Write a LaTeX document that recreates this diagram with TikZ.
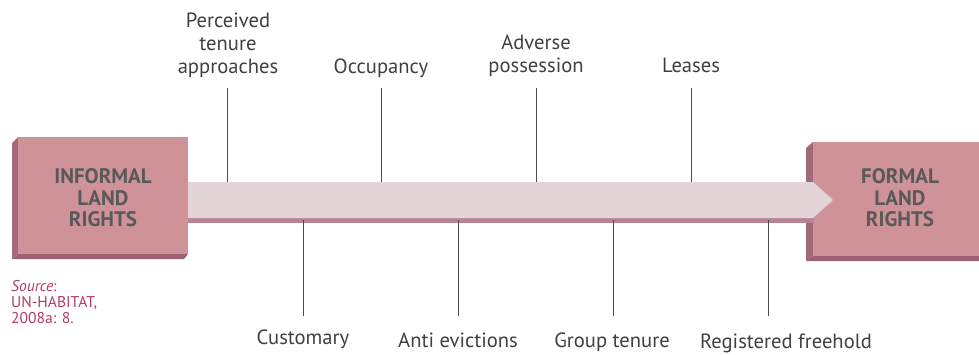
\documentclass[tikz,border=0pt]{standalone}
\usepackage{fontspec}
\setmainfont{PT Sans}
\begin{document}
\begin{tikzpicture}[x=1pt,y=-1pt,
  lbl/.style={text=black!75, font=\fontsize{20.6}{23}\selectfont, align=center, inner sep=0pt},
  boxtxt/.style={text=black!65, font=\fontsize{21}{21.5}\selectfont\bfseries, align=center, inner sep=0pt},
  tick/.style={draw=black!70, line width=0.9pt},
  src/.style={text=srcpink, font=\fontsize{15.6}{16.2}\selectfont, align=left, inner sep=0pt, anchor=north west}]
\definecolor{boxface}{HTML}{CF9299}
\definecolor{boxside}{HTML}{A06A7B}
\definecolor{boxbot}{HTML}{9A6272}
\definecolor{arrlight}{HTML}{E3D4D8}
\definecolor{arrdark}{HTML}{B98592}
\definecolor{srcpink}{HTML}{B23A62}
\useasboundingbox (0,0) rectangle (979,354);

% right box
\fill[boxside] (806,148) -- (813,142) -- (813,256) -- (806,261) -- cycle;
\fill[boxbot] (806,261) -- (813,256) -- (979,256) -- (979,261) -- cycle;
\fill[boxface] (813,142) rectangle (979,256);

% arrow
\fill[arrdark] (185,216) rectangle (814,223);
\fill[arrlight] (185,182) -- (813,182) -- (833,200) -- (813,218) -- (185,218) -- cycle;

% left box
\fill[boxside] (12,143) -- (18,137) -- (18,254) -- (12,259) -- cycle;
\fill[boxbot] (12,259) -- (18,254) -- (188,254) -- (184,259) -- cycle;
\fill[boxface] (18,137) rectangle (188,254);

\node[boxtxt] (inf) at (103,198) {INFORMAL\\LAND\\RIGHTS};
\node[boxtxt] (for) at (900,198) {FORMAL\\LAND\\RIGHTS};

% top labels
\node[lbl, anchor=south] (l1) at (228,78) {Perceived\\tenure\\approaches};
\node[lbl, anchor=south] (l2) at (381,78) {Occupancy};
\node[lbl, anchor=south] (l3) at (536,77) {Adverse\\possession};
\node[lbl, anchor=base] (l4) at (691,72) {Leases};
% bottom labels
\node[lbl, anchor=base] (b1) at (303,344) {Customary};
\node[lbl, anchor=base] (b2) at (458,347) {Anti evictions};
\node[lbl, anchor=base] (b3) at (612,347) {Group tenure};
\node[lbl, anchor=base] (b4) at (786,348) {Registered freehold};

% ticks
\foreach \i/\x in {1/227,2/381,3/536,4/691}{
  \coordinate (tt\i) at (\x,88);
  \coordinate (ta\i) at (\x,182);
  \draw[tick] (tt\i) -- (ta\i);
}
\foreach \i/\x in {1/303,2/458,3/613,4/768}{
  \coordinate (bb\i) at (\x,316);
  \coordinate (ba\i) at (\x,220);
  \draw[tick] (ba\i) -- (bb\i);
}

\node[src] (source) at (11,280) {\textit{Source}:\\UN-HABITAT,\\2008a: 8.};
\end{tikzpicture}
\end{document}
